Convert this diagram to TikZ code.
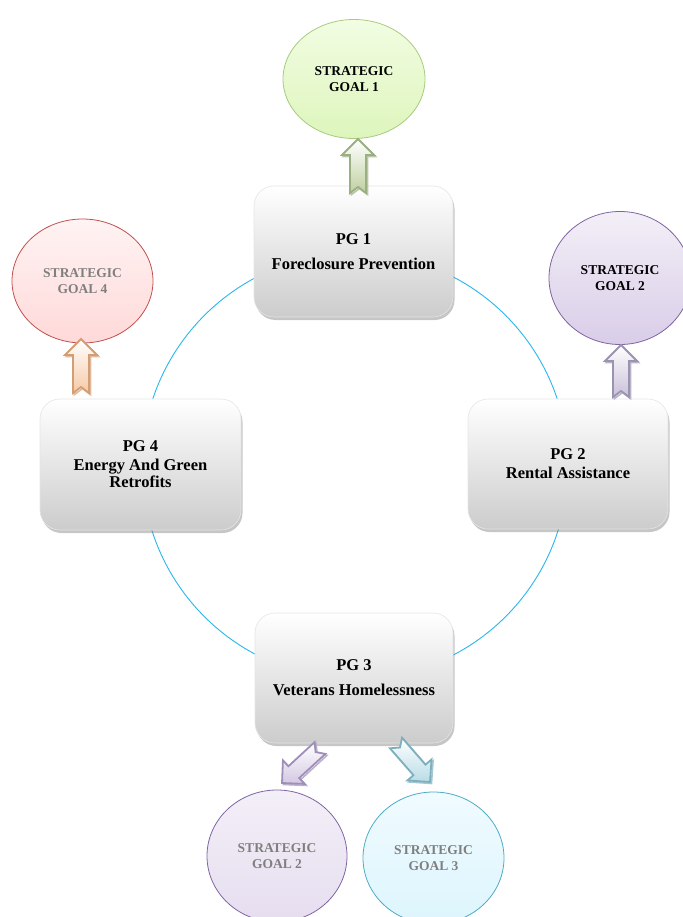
\documentclass[tikz,border=0pt]{standalone}
\usepackage{fontspec}
\setmainfont{Liberation Serif}
\usetikzlibrary{shapes.geometric,shadows,calc}
\definecolor{ringc}{HTML}{29B5EE}
\definecolor{gtext}{HTML}{7F7F7F}
\definecolor{grnline}{HTML}{A6CB7E}\definecolor{grntop}{HTML}{F2FDE2}\definecolor{grnbot}{HTML}{DDF5BC}
\definecolor{grnarr}{HTML}{9CAF82}\definecolor{grnarrf}{HTML}{BFD0A0}
\definecolor{redline}{HTML}{C0504D}\definecolor{redtop}{HTML}{FFF3F3}\definecolor{redbot}{HTML}{FFD9D9}
\definecolor{orarr}{HTML}{D49E74}\definecolor{orarrf}{HTML}{F6C9A6}
\definecolor{purline}{HTML}{8064A2}\definecolor{purtop}{HTML}{F3EFF7}\definecolor{purbot}{HTML}{D9CDE8}
\definecolor{purbotb}{HTML}{E6DEF0}
\definecolor{purarr}{HTML}{9C93B0}\definecolor{purarrf}{HTML}{C9C0DA}
\definecolor{purarrb}{HTML}{9F8FB8}\definecolor{purarrbf}{HTML}{D3C8E3}
\definecolor{cyline}{HTML}{4BACC6}\definecolor{cytop}{HTML}{F0FBFF}\definecolor{cybot}{HTML}{DDF5FD}
\definecolor{tlarr}{HTML}{7EAFBF}\definecolor{tlarrf}{HTML}{B9DCE6}
\newcommand\blockarr[4]{%
  \path let \p1=($(#2)-(#1)$) in
    \pgfextra{\pgfmathsetmacro\baang{atan2(\y1,\x1)}\pgfmathsetmacro\balen{veclen(\x1,\y1)}%
      \global\let\baangG\baang\global\let\balenG\balen};
  \begin{scope}[shift={($(#1)+(1.5,1.5)$)}, rotate=\baangG]
    \draw[#3!70, line width=1.6pt, line join=miter]
      (0,-8) -- (\balenG-16,-8) -- (\balenG-16,-16) -- (\balenG,0) -- (\balenG-16,16)
      -- (\balenG-16,8) -- (0,8) -- (6,0) -- cycle;
  \end{scope}
  \begin{scope}[shift={(#1)}, rotate=\baangG]
    \draw[#3, line width=1.8pt, line join=miter, top color=white, bottom color=#4]
      (0,-8) -- (\balenG-16,-8) -- (\balenG-16,-16) -- (\balenG,0) -- (\balenG-16,16)
      -- (\balenG-16,8) -- (0,8) -- (6,0) -- cycle;
  \end{scope}}
\begin{document}
\begin{tikzpicture}[x=1pt,y=-1pt,
  pgbox/.style={draw=gray!20, line width=0.6pt, rounded corners=20pt, top color=white,
    bottom color=black!20, drop shadow={shadow xshift=1.5pt, shadow yshift=-3pt, opacity=0.45},
    align=center, font=\bfseries\fontsize{16.5}{19}\selectfont, inner sep=0pt},
  goal/.style={ellipse, line width=0.8pt, align=center,
    font=\bfseries\fontsize{13.5}{16}\selectfont, inner sep=0pt}]
\useasboundingbox (0,0) rectangle (682,917);
\node[circle, draw=ringc, line width=0.9pt, minimum size=426pt, inner sep=0pt] (ring) at (355,466) {};
% boxes
\node[pgbox, minimum width=199pt, minimum height=131pt] (pg1) at (353.5,251.5) {PG 1\\[6pt]Foreclosure Prevention};
\node[pgbox, minimum width=201pt, minimum height=131pt] (pg4) at (140.5,464.5) {PG 4\\Energy And Green\\[-2pt]Retrofits};
\node[pgbox, minimum width=200pt, minimum height=130pt] (pg2) at (568,464) {PG 2\\Rental Assistance};
\node[pgbox, minimum width=198pt, minimum height=130pt] (pg3) at (354,678) {PG 3\\[6pt]Veterans Homelessness};
% goals
\node[goal, draw=grnline, top color=grntop, bottom color=grnbot, minimum width=142pt, minimum height=119pt] (sg1) at (354,79) {STRATEGIC\\GOAL 1};
\node[goal, draw=redline, top color=redtop, bottom color=redbot, text=gtext, minimum width=141pt, minimum height=124pt] (sg4) at (82.5,281) {STRATEGIC\\GOAL 4};
\node[goal, draw=purline, top color=purtop, bottom color=purbot, minimum width=142pt, minimum height=133pt] (sg2a) at (620,278) {STRATEGIC\\GOAL 2};
\node[goal, draw=purline, top color=purtop, bottom color=purbotb, text=gtext, minimum width=140pt, minimum height=132pt] (sg2b) at (277,856) {STRATEGIC\\GOAL 2};
\node[goal, draw=cyline, top color=cytop, bottom color=cybot, text=gtext, minimum width=141pt, minimum height=132pt] (sg3) at (433.5,858) {STRATEGIC\\GOAL 3};
% arrow ends
\coordinate (a1t) at (358,193); \coordinate (a1h) at (358,139);
\coordinate (a4t) at (81,393);  \coordinate (a4h) at (81,339);
\coordinate (a2t) at (621,397); \coordinate (a2h) at (621,345);
\coordinate (a5t) at (320,748); \coordinate (a5h) at (282,783);
\coordinate (a6t) at (396,743); \coordinate (a6h) at (430,782);
\blockarr{a1t}{a1h}{grnarr}{grnarrf}
\blockarr{a4t}{a4h}{orarr}{orarrf}
\blockarr{a2t}{a2h}{purarr}{purarrf}
\blockarr{a5t}{a5h}{purarrb}{purarrbf}
\blockarr{a6t}{a6h}{tlarr}{tlarrf}
\end{tikzpicture}
\end{document}
